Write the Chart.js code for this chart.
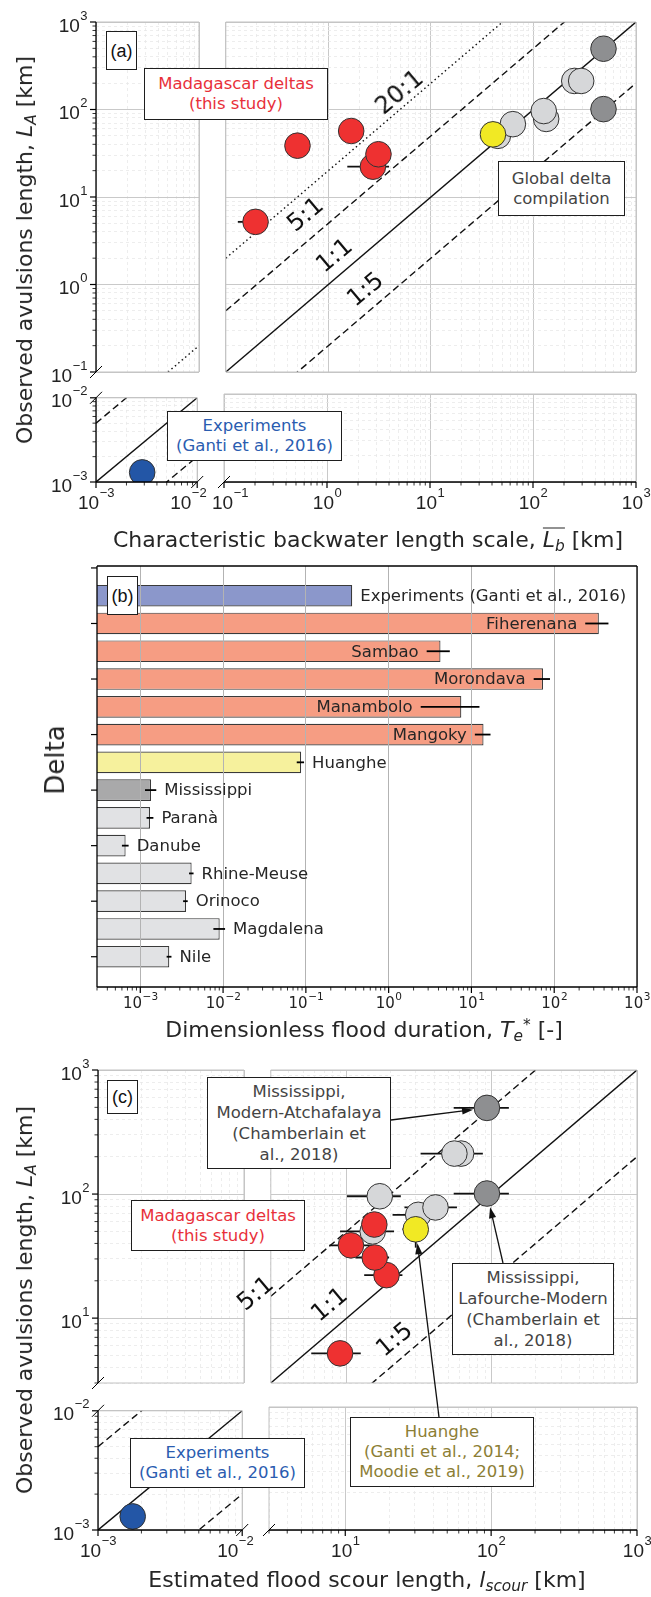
<!DOCTYPE html>
<html>
<head>
<meta charset="utf-8">
<script src="https://cdn.jsdelivr.net/npm/chart.js@4.4.1/dist/chart.umd.min.js"></script>
<style>
body { margin: 0; background: #fff; }
#fig { position: relative; width: 651px; height: 1597px; overflow: hidden; font-family: 'DejaVu Sans', sans-serif; color: #262626; }
canvas { position: absolute; z-index: 1; }
.box { position: absolute; z-index: 2; box-sizing: border-box; border: 1.3px solid #1e1e1e; background: #fff;
       display: flex; align-items: center; justify-content: center; text-align: center;
       font-size: 16.5px; line-height: 20px; color: #444; white-space: nowrap; }
.tag { font-family: 'Liberation Sans', Arial, sans-serif; font-size: 18px; color: #111; }
.ratio { position: absolute; z-index: 2; font-size: 24px; line-height: 24px; color: #111; white-space: nowrap;
         transform: translate(-50%, -50%) rotate(-40deg); }
.title { position: absolute; z-index: 2; font-size: 22px; line-height: 22px; white-space: nowrap; transform: translate(-50%, -50%); }
.ytitle { transform: translate(-50%, -50%) rotate(-90deg); }
sub { font-size: 0.7em; vertical-align: -0.28em; line-height: 0; }
sup { font-size: 0.7em; vertical-align: 0.45em; line-height: 0; }
.ob { display: inline-block; border-top: 1.6px solid #262626; line-height: 19px; padding-top: 1px; }
.red { color: #e8303a; } .blue { color: #2a5cb0; } .olive { color: #8c7e35; }
</style>
</head>
<body>
<div id="fig">
  <!-- panel (a) -->
  <div class="box tag" style="left:106px;top:31px;width:31px;height:39px">(a)</div>
  <div class="box red" style="left:144px;top:68px;width:184px;height:52px">Madagascar deltas<br>(this study)</div>
  <div class="box" style="left:498px;top:161px;width:127px;height:55px">Global delta<br>compilation</div>
  <div class="box blue" style="left:167px;top:411px;width:175px;height:50px">Experiments<br>(Ganti et al., 2016)</div>
  <div class="ratio" style="left:399px;top:92px">20:1</div>
  <div class="ratio" style="left:305px;top:214px">5:1</div>
  <div class="ratio" style="left:334px;top:255px">1:1</div>
  <div class="ratio" style="left:365px;top:289px">1:5</div>
  <div class="title ytitle" style="left:25px;top:250px">Observed avulsions length, <i>L<sub>A</sub></i> [km]</div>
  <div class="title" style="left:368px;top:539px">Characteristic backwater length scale, <span class="ob"><i>L<sub>b</sub></i></span> [km]</div>

  <!-- panel (b) -->
  <div class="box tag" style="left:107px;top:576px;width:31px;height:39px">(b)</div>
  <div class="title ytitle" style="left:55px;top:760px;font-size:26px;line-height:26px">Delta</div>
  <div class="title" style="left:364px;top:1030px">Dimensionless flood duration, <i>T<sub>e</sub></i><sup>*</sup> [-]</div>

  <!-- panel (c) -->
  <div class="box tag" style="left:107px;top:1080px;width:31px;height:34px">(c)</div>
  <div class="box" style="left:207px;top:1077px;width:184px;height:92px;line-height:21px">Mississippi,<br>Modern-Atchafalaya<br>(Chamberlain et<br>al., 2018)</div>
  <div class="box red" style="left:131px;top:1200px;width:174px;height:51px">Madagascar deltas<br>(this study)</div>
  <div class="box" style="left:452px;top:1263px;width:162px;height:92px;line-height:21px">Mississippi,<br>Lafourche-Modern<br>(Chamberlain et<br>al., 2018)</div>
  <div class="box olive" style="left:350px;top:1417px;width:184px;height:70px">Huanghe<br>(Ganti et al., 2014;<br>Moodie et al., 2019)</div>
  <div class="box blue" style="left:130px;top:1438px;width:175px;height:50px">Experiments<br>(Ganti et al., 2016)</div>
  <div class="ratio" style="left:255px;top:1293px">5:1</div>
  <div class="ratio" style="left:329px;top:1304px">1:1</div>
  <div class="ratio" style="left:394px;top:1339px">1:5</div>
  <div class="title ytitle" style="left:25px;top:1300px">Observed avulsions length, <i>L<sub>A</sub></i> [km]</div>
  <div class="title" style="left:367px;top:1580px">Estimated flood scour length, <i>l<sub>scour</sub></i> [km]</div>
</div>

<script>
// ---------------- data: panels (a) and (c) ----------------
// global delta compilation (light grey)
const compLA   = [50, 68, 78, 96, 212, 212];
const compLb   = [45, 63, 133, 126, 250, 292];
const compLs   = [15.1, 31.1, 40.9, 16.9, 61.4, 55.2];
const compLsLo = [9.0, 20.7, 25, 10.05, null, 32.3];
const compLsHi = [21.2, 45, 57.5, 23.6, null, 86.7];

// Mississippi (dark grey)
const missLA   = [495, 101];
const missLb   = [482, 482];
const missLs   = [92.5, 92.5];
const missLsLo = [54.6, 54.6];
const missLsHi = [131, 131];

// Huanghe (yellow)
const huangLA   = [52];
const huangLALo = [37];
const huangLAHi = [64];
const huangLb   = [40.3];
const huangLs   = [29.9];
const huangLsLo = [24.2];
const huangLsHi = [36];

// Madagascar deltas (red)
const madLA   = [5.2, 38.6, 56.8, 22.2, 30.8];
const madLb   = [0.195, 0.50, 1.67, 2.72, 3.08];
const madLbLo = [0.131, null, null, 1.53, null];
const madLbHi = [0.25, null, null, 3.91, null];
const madLs   = [9.0, 10.7, 15.5, 18.8, 15.6];
const madLsLo = [5.7, 7.6, null, 13.2, 11.5];
const madLsHi = [12.5, 15, null, 24.2, 19.6];

// experiments (blue)
const expLA = [0.0013];
const expLb = [0.00286];
const expLs = [0.00174];

// reference lines L_A = k * L
const ratios   = [1, 5, 0.2, 20];
const ratioDash = [[], [7, 4], [7, 4], [1.5, 3]];

// ---------------- data: panel (b) ----------------
const deltas = ['Experiments (Ganti et al., 2016)', 'Fiherenana', 'Sambao', 'Morondava', 'Manambolo', 'Mangoky',
  'Huanghe', 'Mississippi', 'Paranà', 'Danube', 'Rhine-Meuse', 'Orinoco', 'Magdalena', 'Nile'];
const deltaGroup = ['exp', 'mad', 'mad', 'mad', 'mad', 'mad', 'huang', 'miss', 'comp', 'comp', 'comp', 'comp', 'comp', 'comp'];
const Te   = [0.363, 346, 4.23, 73.2, 7.55, 14.0, 0.0877, 0.00135, 0.00131, 0.000665, 0.00417, 0.00357, 0.0091, 0.00224];
const TeLo = [null, 237, 2.88, 56.5, 2.44, 11.0, 0.0776, 0.00114, 0.00119, 0.0006, 0.00388, 0.00329, 0.00764, 0.00208];
const TeHi = [null, 452, 5.48, 88.9, 12.5, 17.0, 0.0951, 0.00156, 0.00144, 0.000723, 0.0044, 0.00374, 0.01057, 0.00238];

const C = { red: '#ee3131', light: '#d6d7d9', dark: '#8e8f91', yellow: '#f1e924', blue: '#2356a6' };
const barC = { exp: '#8b97cb', mad: '#f69d83', huang: '#f6f19d', miss: '#a9a9aa', comp: '#e1e2e4' };

const BIG = { family: '"Liberation Sans", Arial, sans-serif', big: 19, sup: 13, gap: 9, lBase: 9.5, bBase: 27, raise: 12 };
const SMALL = { family: '"DejaVu Sans", sans-serif', big: 15, sup: 10.5, gap: 8, lBase: 6, bBase: 21, raise: 8 };

const fig = document.getElementById('fig');

function seg(ctx, x0, y0, x1, y1) { ctx.beginPath(); ctx.moveTo(x0, y0); ctx.lineTo(x1, y1); ctx.stroke(); }

function logTicks(min, max) {
  const out = [];
  for (let e = Math.floor(Math.log10(min)); e <= Math.ceil(Math.log10(max)); e++) {
    for (let m = 1; m < 10; m++) {
      const v = +(m * Math.pow(10, e)).toPrecision(6);
      if (v >= min * 0.9999 && v <= max * 1.0001) out.push({ value: v, major: m === 1 });
    }
  }
  return out;
}

function powLabel(ctx, e, x, y, side, st, shift) {
  const base = '10', ex = (e < 0 ? '\u2212' : '') + Math.abs(e);
  const fb = st.big + 'px ' + st.family, fs = st.sup + 'px ' + st.family;
  ctx.font = fb; const wb = ctx.measureText(base).width;
  ctx.font = fs; const we = ctx.measureText(ex).width;
  let x0, yb;
  if (side === 'left') { x0 = x - st.gap - wb - we; yb = y + st.lBase; }
  else { x0 = x - (wb + we) / 2 + ((shift && shift[e]) || 0); yb = y + st.bBase; }
  ctx.textAlign = 'left'; ctx.textBaseline = 'alphabetic'; ctx.fillStyle = '#222';
  ctx.font = fb; ctx.fillText(base, x0, yb);
  ctx.font = fs; ctx.fillText(ex, x0 + wb + 0.5, yb - st.raise);
}

function drawErrors(chart) {
  const ctx = chart.ctx, xs = chart.scales.x, ys = chart.scales.y;
  ctx.save();
  ctx.strokeStyle = '#111'; ctx.lineWidth = 1.8;
  chart.data.datasets.forEach(ds => {
    const e = ds.err; if (!e) return;
    ds.data.forEach((p, i) => {
      const px = xs.getPixelForValue(p.x), py = ys.getPixelForValue(p.y);
      if (e.xLo && e.xLo[i] != null) seg(ctx, xs.getPixelForValue(e.xLo[i]), py, xs.getPixelForValue(e.xHi[i]), py);
      if (e.yLo && e.yLo[i] != null) seg(ctx, px, ys.getPixelForValue(e.yLo[i]), px, ys.getPixelForValue(e.yHi[i]));
    });
  });
  ctx.restore();
}

// spines, tick marks, 10^n labels and axis-break marks
function makeFrame(cfg) {
  return {
    id: 'frame',
    beforeDatasetsDraw(chart) { drawErrors(chart); },
    afterDraw(chart) {
      const ctx = chart.ctx, a = chart.chartArea;
      const sides = { top: [a.left, a.top, a.right, a.top], bottom: [a.left, a.bottom, a.right, a.bottom],
                      left: [a.left, a.top, a.left, a.bottom], right: [a.right, a.top, a.right, a.bottom] };
      ctx.save();
      const names = ['top', 'right', 'bottom', 'left'];
      names.filter(s => !cfg.dark.includes(s)).forEach(s => { ctx.strokeStyle = '#c2c2c2'; ctx.lineWidth = 1; seg(ctx, ...sides[s]); });
      names.filter(s => cfg.dark.includes(s)).forEach(s => { ctx.strokeStyle = '#000'; ctx.lineWidth = 1.3; seg(ctx, ...sides[s]); });
      ctx.strokeStyle = '#000';
      if (cfg.ticks.includes('left')) {
        const sc = chart.scales.y;
        sc.ticks.forEach(t => {
          const y = sc.getPixelForValue(t.value);
          const len = t.major ? 6 : 3.5;
          ctx.lineWidth = t.major ? 1.2 : 0.8;
          seg(ctx, a.left - len, y, a.left, y);
          if (t.major && cfg.labels.includes('left')) powLabel(ctx, Math.round(Math.log10(t.value)), a.left, y, 'left', cfg.st);
        });
      }
      if (cfg.ticks.includes('bottom')) {
        const sc = chart.scales.x;
        sc.ticks.forEach(t => {
          const x = sc.getPixelForValue(t.value);
          const len = t.major ? 6 : 3.5;
          ctx.lineWidth = t.major ? 1.2 : 0.8;
          seg(ctx, x, a.bottom, x, a.bottom + len);
          if (t.major && cfg.labels.includes('bottom')) powLabel(ctx, Math.round(Math.log10(t.value)), x, a.bottom, 'bottom', cfg.st, cfg.shift);
        });
      }
      ctx.lineWidth = 1;
      (cfg.breaks || []).forEach(c => {
        const cx = c[1] === 'l' ? a.left : a.right, cy = c[0] === 't' ? a.top : a.bottom;
        seg(ctx, cx - 6, cy + 6, cx + 6, cy - 6);
      });
      ctx.restore();
    }
  };
}

function logAxis(r) {
  return {
    type: 'logarithmic', min: r[0], max: r[1], offset: false,
    afterBuildTicks: s => { s.ticks = logTicks(r[0], r[1]); },
    afterFit: s => { if (s.isHorizontal()) s.height = 0; else s.width = 0; },
    ticks: { display: false },
    border: { display: false, dash: c => (c.tick && !c.tick.major) ? [3, 3] : [] },
    grid: { drawTicks: false, offset: false,
            color: c => (c.tick && c.tick.major) ? '#c9c9c9' : '#e9e9e9',
            lineWidth: c => (c.tick && c.tick.major) ? 1 : 0.8 }
  };
}

function place(area, m) {
  const cv = document.createElement('canvas');
  const w = area[2] - area[0] + m[0] + m[2], h = area[3] - area[1] + m[1] + m[3];
  cv.width = w; cv.height = h;
  cv.style.left = (area[0] - m[0]) + 'px'; cv.style.top = (area[1] - m[1]) + 'px';
  cv.style.width = w + 'px'; cv.style.height = h + 'px';
  fig.appendChild(cv);
  return cv;
}

function ratioLines(xr, which) {
  return which.map(i => ({
    data: [{ x: xr[0], y: ratios[i] * xr[0] }, { x: xr[1], y: ratios[i] * xr[1] }],
    showLine: true, pointRadius: 0, borderColor: '#111', borderWidth: 1.4, borderDash: ratioDash[i],
    clip: 0, order: 20
  }));
}

function group(xs, ys, color, order, err) {
  return {
    data: xs.map((x, i) => ({ x, y: ys[i] })),
    backgroundColor: color, borderColor: '#333', borderWidth: 1,
    pointRadius: 12.8, pointHoverRadius: 12.8, order, err
  };
}

function scatterPanel(area, m, xr, yr, frame, datasets) {
  const cv = place(area, m);
  return new Chart(cv, {
    type: 'scatter',
    data: { datasets },
    options: {
      responsive: false, animation: false, events: [],
      layout: { padding: { left: m[0], top: m[1], right: m[2], bottom: m[3] } },
      plugins: { legend: { display: false }, tooltip: { enabled: false } },
      scales: { x: logAxis(xr), y: logAxis(yr) }
    },
    plugins: [makeFrame(frame)]
  });
}

// ---------------- panel (a) ----------------
const aXL = [1e-3, 1e-2], aXR = [0.1, 1000], aYT = [0.1, 1000], aYB = [1e-3, 1e-2];
scatterPanel([96, 22, 199, 372], [96, 14, 12, 14], aXL, aYT,
  { dark: ['left'], ticks: ['left'], labels: ['left'], breaks: ['bl'], st: BIG },
  ratioLines(aXL, [0, 1, 2, 3]));
scatterPanel([224, 22, 636, 372], [12, 14, 15, 14], aXR, aYT,
  { dark: [], ticks: [], labels: [], st: BIG },
  [...ratioLines(aXR, [0, 1, 2, 3]),
   group(compLb, compLA, C.light, 6),
   group(missLb, missLA, C.dark, 5),
   group(huangLb, huangLA, C.yellow, 4, { yLo: huangLALo, yHi: huangLAHi }),
   group(madLb, madLA, C.red, 3, { xLo: madLbLo, xHi: madLbHi })]);
scatterPanel([96, 394, 199, 482], [96, 10, 12, 48], aXL, aYB,
  { dark: ['left', 'bottom'], ticks: ['left', 'bottom'], labels: ['left', 'bottom'], breaks: ['tl', 'br'], st: BIG, shift: { '-2': -9 } },
  [...ratioLines(aXL, [0, 1, 2, 3]), group(expLb, expLA, C.blue, 2)]);
scatterPanel([224, 394, 636, 482], [12, 10, 15, 48], aXR, aYB,
  { dark: ['bottom'], ticks: ['bottom'], labels: ['bottom'], breaks: ['bl'], st: BIG, shift: { '-1': 6 } },
  []);

// ---------------- panel (b) ----------------
const bX = [3e-4, 1000];
const barNotes = {
  id: 'barNotes',
  afterDraw(chart) {
    const ctx = chart.ctx, xs = chart.scales.x, ys = chart.scales.y;
    ctx.save();
    ctx.strokeStyle = '#000'; ctx.lineWidth = 1.8;
    ctx.font = '16.5px "DejaVu Sans", sans-serif'; ctx.textBaseline = 'middle'; ctx.fillStyle = '#262626';
    deltas.forEach((name, i) => {
      const y = ys.getPixelForValue(i), xe = xs.getPixelForValue(Te[i]);
      let lo = xe, hi = xe;
      if (TeLo[i] != null) { lo = xs.getPixelForValue(TeLo[i]); hi = xs.getPixelForValue(TeHi[i]); seg(ctx, lo, y, hi, y); }
      if (deltaGroup[i] === 'mad') { ctx.textAlign = 'right'; ctx.fillText(name, lo - 8, y + 1); }
      else { ctx.textAlign = 'left'; ctx.fillText(name, Math.max(xe, hi) + 8, y + 1); }
    });
    ctx.restore();
  }
};
(function () {
  const m = [97, 10, 14, 32];
  const cv = place([97, 566, 637, 987], m);
  new Chart(cv, {
    type: 'bar',
    data: { datasets: [{
      data: Te.map((v, i) => ({ x: v, y: i })),
      backgroundColor: deltaGroup.map(g => barC[g]),
      borderColor: '#3a3a3a', borderWidth: 1.2,
      barPercentage: 0.78, categoryPercentage: 1
    }] },
    options: {
      indexAxis: 'y', responsive: false, animation: false, events: [],
      layout: { padding: { left: m[0], top: m[1], right: m[2], bottom: m[3] } },
      plugins: { legend: { display: false }, tooltip: { enabled: false } },
      scales: {
        x: { type: 'logarithmic', min: bX[0], max: bX[1], offset: false,
             afterBuildTicks: s => { s.ticks = logTicks(bX[0], bX[1]); },
             afterFit: s => { s.height = 0; },
             ticks: { display: false }, border: { display: false },
             grid: { z: 1, offset: false, drawTicks: false, color: c => (c.tick && c.tick.major) ? '#b3b3b3' : 'rgba(0,0,0,0)' } },
        y: { type: 'linear', reverse: true, min: -1.07, max: 14.09, offset: false,
             afterBuildTicks: s => { s.ticks = [-1, 1, 3, 5, 7, 9, 11, 13].map(v => ({ value: v, major: true })); },
             afterFit: s => { s.width = 0; },
             ticks: { display: false }, border: { display: false }, grid: { display: false, offset: false } }
      }
    },
    plugins: [makeFrame({ dark: ['top', 'right', 'bottom', 'left'], ticks: ['left', 'bottom'], labels: ['bottom'], st: SMALL }), barNotes]
  });
})();

// ---------------- panel (c) ----------------
const cXL = [1e-3, 1e-2], cXR = [3, 1000], cYT = [3, 1000], cYB = [1e-3, 1e-2];
scatterPanel([98, 1070, 244, 1383], [98, 14, 12, 14], cXL, cYT,
  { dark: ['left'], ticks: ['left'], labels: ['left'], breaks: ['bl'], st: BIG },
  []);
const cTR = scatterPanel([269, 1070, 637, 1383], [12, 14, 14, 14], cXR, cYT,
  { dark: [], ticks: [], labels: [], st: BIG },
  [...ratioLines(cXR, [0, 1, 2]),
   group(compLs, compLA, C.light, 6, { xLo: compLsLo, xHi: compLsHi }),
   group(missLs, missLA, C.dark, 5, { xLo: missLsLo, xHi: missLsHi }),
   group(huangLs, huangLA, C.yellow, 4, { xLo: huangLsLo, xHi: huangLsHi, yLo: huangLALo, yHi: huangLAHi }),
   group(madLs, madLA, C.red, 3, { xLo: madLsLo, xHi: madLsHi })]);
scatterPanel([98, 1407, 244, 1530], [98, 10, 12, 46], cXL, cYB,
  { dark: ['left', 'bottom'], ticks: ['left', 'bottom'], labels: ['left', 'bottom'], breaks: ['tl', 'br'], st: BIG, shift: { '-2': -7 } },
  [...ratioLines(cXL, [0, 1, 2]), group(expLs, expLA, C.blue, 2)]);
scatterPanel([269, 1407, 637, 1530], [12, 10, 14, 46], cXR, cYB,
  { dark: ['bottom'], ticks: ['bottom'], labels: ['bottom'], breaks: ['bl'], st: BIG },
  []);

// ---------------- annotation arrows in (c) ----------------
const ov = document.createElement('canvas');
ov.width = 651; ov.height = 1597;
ov.style.left = '0px'; ov.style.top = '0px'; ov.style.zIndex = 3;
fig.appendChild(ov);
const octx = ov.getContext('2d');
function arrowTo(chart, x, y, sx, sy) {
  const cv = chart.canvas;
  const cx = parseFloat(cv.style.left) + chart.scales.x.getPixelForValue(x);
  const cy = parseFloat(cv.style.top) + chart.scales.y.getPixelForValue(y);
  const dx = sx - cx, dy = sy - cy, d = Math.hypot(dx, dy);
  const ex = cx + dx / d * 14, ey = cy + dy / d * 14;
  const ang = Math.atan2(ey - sy, ex - sx), L = 11, W = 3.6;
  octx.strokeStyle = '#111'; octx.fillStyle = '#111'; octx.lineWidth = 1.3;
  seg(octx, sx, sy, ex - Math.cos(ang) * 4, ey - Math.sin(ang) * 4);
  octx.beginPath();
  octx.moveTo(ex, ey);
  octx.lineTo(ex - L * Math.cos(ang) + W * Math.sin(ang), ey - L * Math.sin(ang) - W * Math.cos(ang));
  octx.lineTo(ex - L * Math.cos(ang) - W * Math.sin(ang), ey - L * Math.sin(ang) + W * Math.cos(ang));
  octx.closePath(); octx.fill();
}
arrowTo(cTR, missLs[0], missLA[0], 391, 1120);
arrowTo(cTR, missLs[1], missLA[1], 503, 1263);
arrowTo(cTR, huangLs[0], huangLA[0], 439, 1417);
</script>
</body>
</html>
